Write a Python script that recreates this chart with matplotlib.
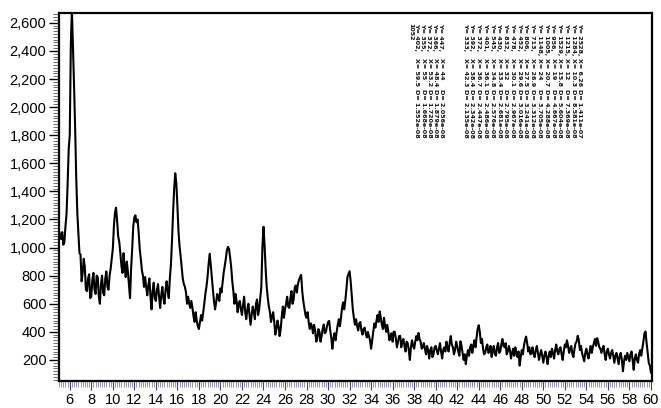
import numpy as np
import matplotlib
matplotlib.use("Agg")
import matplotlib.pyplot as plt
from matplotlib.ticker import MultipleLocator, FuncFormatter

# --- scan: 2-theta from 5 to 60 deg, 0.1 deg step ---
# counts at the even steps (5.0, 5.2, ... 60.0)
counts_even = [
    1120, 1060, 1020, 1150, 1450, 1800, 2690, 2150, 1500, 1100,   # 5.0 - 6.8
    950, 820, 860, 690, 810, 650, 820, 670, 790, 600,             # 7.0 - 8.8
    800, 660, 830, 700, 850, 990, 1250, 1190, 1040, 870,          # 9.0 - 10.8
    960, 790, 830, 640, 990, 1190, 1180, 1110, 920, 800,          # 11.0 - 12.8
    790, 660, 780, 560, 750, 620, 740, 570, 720, 600,             # 13.0 - 14.8
    760, 640, 880, 1250, 1500, 1300, 1010, 860, 740, 680,         # 15.0 - 16.8
    650, 570, 570, 470, 480, 420, 520, 540, 670, 790,             # 17.0 - 18.8
    950, 790, 620, 610, 640, 710, 750, 870, 980, 990,             # 19.0 - 20.8
    860, 690, 670, 540, 620, 520, 650, 490, 600, 450,             # 21.0 - 22.8
    580, 490, 630, 560, 720, 960, 850, 640, 540, 510,             # 23.0 - 24.8
    470, 420, 440, 420, 580, 560, 650, 570, 690, 630,             # 25.0 - 26.8
    730, 740, 790, 690, 570, 500, 470, 460, 390, 410,             # 27.0 - 28.8
    350, 400, 370, 440, 400, 470, 410, 280, 390, 400,             # 29.0 - 30.8
    490, 500, 610, 620, 790, 830, 660, 500, 490, 410,             # 31.0 - 32.8
    470, 380, 440, 360, 370, 280, 400, 430, 520, 540,             # 33.0 - 34.8
    450, 500, 400, 400, 370, 330, 400, 290, 370, 290,             # 35.0 - 36.8
    350, 260, 320, 200, 340, 280, 370, 370, 330, 290,             # 37.0 - 38.8
    280, 300, 210, 290, 240, 300, 240, 320, 210, 290,             # 39.0 - 40.8
    330, 260, 370, 290, 270, 300, 230, 300, 200, 170,             # 41.0 - 42.8
    270, 290, 250, 340, 360, 440, 320, 280, 250, 310,             # 43.0 - 44.8
    260, 220, 300, 230, 320, 260, 350, 290, 240, 300,             # 45.0 - 46.8
    210, 280, 290, 220, 160, 270, 300, 360, 260, 240,             # 47.0 - 48.8
    290, 220, 300, 200, 270, 180, 260, 170, 260, 280,             # 49.0 - 50.8
    210, 310, 240, 290, 200, 310, 340, 250, 300, 220,             # 51.0 - 52.8
    320, 350, 270, 250, 190, 280, 210, 300, 290, 350,             # 53.0 - 54.8
    350, 290, 250, 300, 200, 280, 210, 270, 180, 250,             # 55.0 - 56.8
    170, 250, 120, 230, 250, 190, 260, 130, 240, 180,             # 57.0 - 58.8
    270, 280, 390, 320, 180, 110,                                 # 59.0 - 60.0
]

# counts at the odd steps (5.1, 5.3, ... 59.9)
counts_odd = [
    1090, 1110, 1040, 1240, 1700, 2450, 2500, 1850, 1250, 960,    # 5.1 - 6.9
    760, 920, 700, 780, 640, 770, 700, 800, 650, 740,             # 7.1 - 8.9
    680, 780, 720, 800, 920, 1150, 1280, 1080, 960, 820,          # 9.1 - 10.9
    860, 900, 730, 850, 1150, 1230, 1200, 990, 840, 720,          # 11.1 - 12.9
    720, 730, 650, 690, 640, 700, 650, 660, 640, 700,             # 13.1 - 14.9
    690, 780, 1050, 1420, 1460, 1120, 940, 780, 720, 600,         # 15.1 - 16.9
    600, 620, 510, 540, 440, 470, 480, 600, 720, 880,             # 17.1 - 18.9
    880, 700, 560, 670, 620, 680, 820, 920, 1000, 930,            # 19.1 - 20.9
    760, 600, 620, 600, 560, 590, 540, 560, 520, 520,             # 21.1 - 22.9
    540, 600, 520, 640, 1000, 1020, 720, 580, 470, 540,           # 23.1 - 24.9
    380, 480, 370, 510, 500, 600, 580, 640, 600, 700,             # 25.1 - 26.9
    680, 770, 800, 620, 520, 540, 420, 440, 450, 330,             # 27.1 - 28.9
    420, 330, 420, 390, 440, 470, 360, 350, 340, 450,             # 29.1 - 30.9
    440, 570, 560, 700, 810, 760, 560, 450, 440, 460,             # 31.1 - 32.9
    410, 420, 390, 400, 340, 340, 460, 480, 470, 500,             # 33.1 - 34.9
    420, 440, 450, 340, 390, 400, 350, 330, 370, 330,             # 35.1 - 36.9
    300, 330, 270, 290, 300, 330, 340, 350, 280, 320,             # 37.1 - 38.9
    240, 270, 270, 220, 290, 270, 280, 260, 270, 260,             # 39.1 - 40.9
    290, 320, 310, 240, 330, 260, 330, 250, 240, 230,             # 41.1 - 42.9
    230, 310, 300, 290, 420, 400, 350, 240, 290, 250,             # 43.1 - 44.9
    300, 270, 240, 290, 250, 310, 300, 320, 260, 270,             # 45.1 - 46.9
    250, 230, 250, 260, 220, 240, 340, 320, 290, 250,             # 47.1 - 48.9
    240, 270, 250, 240, 230, 230, 220, 230, 220, 250,             # 49.1 - 50.9
    270, 260, 280, 240, 260, 290, 300, 280, 240, 280,             # 51.1 - 52.9
    330, 340, 300, 220, 250, 240, 260, 250, 320, 300,             # 53.1 - 54.9
    330, 280, 280, 240, 260, 240, 250, 230, 230, 210,             # 55.1 - 56.9
    230, 200, 190, 200, 220, 240, 200, 210, 200, 240,             # 57.1 - 58.9
    230, 330, 400, 250, 160,                                      # 59.1 - 59.9
]

# picked peaks (2-theta, intensity), in the order the software lists them
peak_2theta = [6.26, 10.3, 12.0, 15.8, 19.0, 20.7, 24.0, 26.9, 27.5,
               29.6, 30.1, 32.0, 33.4, 34.8, 36.1, 36.7, 38.4, 42.3,
               44.0, 48.4, 53.2, 55.0, 59.5]
peak_counts = [2528, 1284, 1215, 1529, 956, 1005, 1148, 713, 806,
               452, 478, 832, 430, 545, 401, 372, 392, 333,
               447, 366, 372, 355, 402]
PEAK_TOTAL = 1052

WAVELENGTH = 1.5406  # Cu K-alpha, angstrom

# build the trace: scan points plus the picked peak points
even_x = np.round(5.0 + 0.2 * np.arange(len(counts_even)), 2)
odd_x = np.round(5.1 + 0.2 * np.arange(len(counts_odd)), 2)
scan_x = np.concatenate([even_x, odd_x])
scan_y = np.array(counts_even + counts_odd, dtype=float)
px = np.array(peak_2theta)
keep = np.array([np.min(np.abs(px - v)) > 0.045 for v in scan_x])
xx = np.concatenate([scan_x[keep], px])
yy = np.concatenate([scan_y[keep], np.array(peak_counts, dtype=float)])
order = np.argsort(xx)
xx, yy = xx[order], yy[order]

plt.rcParams['font.family'] = ['Liberation Sans', 'DejaVu Sans']

fig = plt.figure(figsize=(6.61, 4.08), dpi=100)
ax = fig.add_axes([59 / 661, 27 / 408, 593 / 661, 368 / 408])

ax.plot(xx, yy, color='black', lw=1.5)

ax.set_xlim(5.0, 60.1)
ax.set_ylim(50, 2670)

ax.xaxis.set_minor_locator(MultipleLocator(0.2))
ax.yaxis.set_minor_locator(MultipleLocator(20))
ax.yaxis.set_major_formatter(FuncFormatter(lambda v, p: f"{int(v):,}"))
ax.set_yticks(range(200, 2601, 200))
ax.set_xticks(range(6, 61, 2))

for s in ax.spines.values():
    s.set_linewidth(1.6)
ax.tick_params(axis='both', which='major', labelsize=10.5, direction='out')
ax.tick_params(axis='y', which='major', length=7, width=1.0, pad=2)
ax.tick_params(axis='y', which='minor', length=4, width=0.6, color='#555555')
ax.tick_params(axis='x', which='major', length=6.5, width=0.8, pad=2, color='#444466')
ax.tick_params(axis='x', which='minor', length=4, width=0.5, color='#6a6a88')

# peak table, printed sideways
def d_spacing(tt):
    return WAVELENGTH / (2 * np.sin(np.radians(tt / 2))) * 1e-8

lines = [(f"Y= {y},", f"X= {x:g}", f"D= {d_spacing(x):.3e}")
         for x, y in zip(peak_2theta, peak_counts)]
col_x = [580 - 6.75 * i for i in range(18)] + [441 - 6 * i for i in range(5)]
txt_style = dict(rotation=-90, ha='center', va='top', fontsize=4.6,
                 fontweight='bold', family='DejaVu Sans Condensed', color='#111111')
for (ty, tx, td), cx in zip(lines, col_x):
    for s, top in zip((ty, tx, td), (23, 58, 89)):
        fig.text(cx / 661, 1 - top / 408, s, **txt_style)
fig.text(411 / 661, 1 - 23 / 408, str(PEAK_TOTAL), **txt_style)

fig.savefig("out.png", dpi=100)
